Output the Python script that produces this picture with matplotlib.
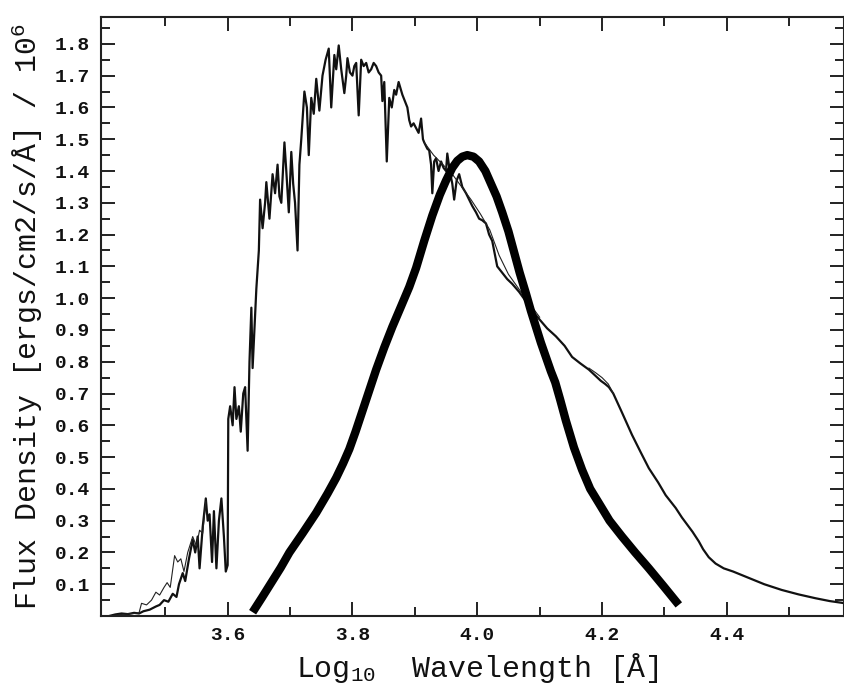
import numpy as np
import matplotlib
matplotlib.use("Agg")
import matplotlib.pyplot as plt
from matplotlib.ticker import FixedLocator, FormatStrFormatter

plt.rcParams['font.family'] = ['Liberation Mono', 'DejaVu Sans Mono']
plt.rcParams['mathtext.default'] = 'regular'

obs_x = [3.410, 3.420, 3.430, 3.440, 3.450, 3.458, 3.465, 3.475, 3.485, 3.491,
         3.498, 3.505, 3.512, 3.518, 3.522, 3.528, 3.532, 3.538, 3.544, 3.548,
         3.552, 3.555, 3.560, 3.565, 3.568, 3.571, 3.575, 3.578, 3.582, 3.586,
         3.590, 3.594, 3.597, 3.600, 3.601, 3.604, 3.608, 3.611, 3.614, 3.618,
         3.621, 3.625, 3.628, 3.632, 3.635, 3.638, 3.640, 3.644, 3.646, 3.650,
         3.652, 3.656, 3.660, 3.662, 3.667, 3.672, 3.676, 3.680, 3.683, 3.686,
         3.691, 3.694, 3.698, 3.702, 3.705, 3.708, 3.712, 3.715, 3.718, 3.723,
         3.727, 3.730, 3.734, 3.738, 3.742, 3.747, 3.752, 3.757, 3.762, 3.766,
         3.771, 3.774, 3.778, 3.782, 3.787, 3.790, 3.792, 3.796, 3.800, 3.803,
         3.806, 3.810, 3.814, 3.818, 3.822, 3.826, 3.830, 3.834, 3.838, 3.842,
         3.846, 3.848, 3.851, 3.855, 3.859, 3.863, 3.867, 3.870, 3.874, 3.877,
         3.880, 3.884, 3.888, 3.891, 3.894, 3.898, 3.902, 3.906, 3.910, 3.913,
         3.915, 3.920, 3.923, 3.926, 3.928, 3.931, 3.934, 3.938, 3.942, 3.946,
         3.950, 3.952, 3.956, 3.960, 3.963, 3.967, 3.971, 3.976, 3.982, 3.987,
         3.992, 3.998, 4.003, 4.008, 4.014, 4.019, 4.024, 4.028, 4.032, 4.040,
         4.048, 4.056, 4.067, 4.078, 4.088, 4.099, 4.112, 4.126, 4.140, 4.152,
         4.165, 4.179, 4.190, 4.198, 4.205, 4.211, 4.218, 4.232, 4.248, 4.262,
         4.275, 4.290, 4.302, 4.318, 4.328, 4.345, 4.355, 4.362, 4.371, 4.382,
         4.395, 4.410, 4.435, 4.460, 4.488, 4.515, 4.542, 4.565, 4.590]
obs_y = [0.000, 0.005, 0.008, 0.006, 0.010, 0.008, 0.015, 0.020, 0.030, 0.035,
         0.050, 0.045, 0.070, 0.060, 0.100, 0.135, 0.110, 0.180, 0.240, 0.200,
         0.250, 0.150, 0.280, 0.370, 0.300, 0.320, 0.170, 0.330, 0.150, 0.300,
         0.370, 0.250, 0.140, 0.160, 0.620, 0.660, 0.600, 0.720, 0.620, 0.660,
         0.580, 0.700, 0.720, 0.520, 0.800, 0.970, 0.780, 0.950, 1.030, 1.150,
         1.310, 1.220, 1.300, 1.365, 1.250, 1.390, 1.330, 1.420, 1.320, 1.300,
         1.490, 1.400, 1.270, 1.460, 1.360, 1.300, 1.150, 1.420, 1.500, 1.650,
         1.600, 1.450, 1.630, 1.580, 1.690, 1.590, 1.700, 1.750, 1.785, 1.600,
         1.765, 1.720, 1.795, 1.720, 1.645, 1.700, 1.755, 1.710, 1.700, 1.730,
         1.740, 1.575, 1.750, 1.730, 1.740, 1.710, 1.720, 1.740, 1.730, 1.710,
         1.700, 1.620, 1.680, 1.430, 1.630, 1.600, 1.655, 1.640, 1.680, 1.660,
         1.640, 1.620, 1.600, 1.560, 1.540, 1.550, 1.535, 1.520, 1.565, 1.500,
         1.490, 1.470, 1.465, 1.420, 1.330, 1.430, 1.440, 1.400, 1.430, 1.410,
         1.400, 1.455, 1.400, 1.360, 1.310, 1.370, 1.390, 1.350, 1.330, 1.310,
         1.290, 1.270, 1.250, 1.245, 1.235, 1.200, 1.180, 1.140, 1.100, 1.080,
         1.060, 1.045, 1.020, 0.990, 0.960, 0.935, 0.905, 0.880, 0.850, 0.815,
         0.795, 0.775, 0.755, 0.740, 0.730, 0.720, 0.700, 0.640, 0.570, 0.515,
         0.465, 0.420, 0.380, 0.340, 0.310, 0.265, 0.235, 0.210, 0.185, 0.165,
         0.150, 0.140, 0.120, 0.100, 0.082, 0.068, 0.056, 0.047, 0.040]

# model spectrum, only where it separates from the observed one
model_lo_x = [3.410, 3.430, 3.450, 3.458, 3.462, 3.470, 3.478, 3.485, 3.491, 3.498,
              3.503, 3.508, 3.515, 3.520, 3.525, 3.530, 3.536, 3.544, 3.550, 3.555,
              3.560, 3.565]
model_lo_y = [0.000, 0.005, 0.008, 0.010, 0.040, 0.035, 0.050, 0.075, 0.066, 0.090,
              0.105, 0.090, 0.190, 0.170, 0.180, 0.140, 0.200, 0.250, 0.220, 0.270,
              0.260, 0.360]
model_mid_x = [3.915, 3.930, 3.945, 3.960, 3.975, 3.990, 4.005, 4.020, 4.035, 4.050,
               4.070, 4.100]
model_mid_y = [1.490, 1.450, 1.420, 1.390, 1.350, 1.310, 1.265, 1.215, 1.135, 1.075,
               1.020, 0.940]
model_sh_x = [4.179, 4.190, 4.200, 4.210, 4.218]
model_sh_y = [0.780, 0.765, 0.750, 0.730, 0.700]

# thick overlaid curve
bb_x = [3.640, 3.655, 3.670, 3.685, 3.699, 3.720, 3.742, 3.760, 3.774, 3.785,
        3.795, 3.805, 3.816, 3.827, 3.838, 3.851, 3.864, 3.877, 3.891, 3.902,
        3.915, 3.928, 3.940, 3.950, 3.960, 3.968, 3.976, 3.984, 3.994, 4.003,
        4.013, 4.022, 4.031, 4.040, 4.050, 4.059, 4.068, 4.078, 4.086, 4.094,
        4.102, 4.110, 4.118, 4.125, 4.133, 4.142, 4.155, 4.168, 4.181, 4.195,
        4.212, 4.232, 4.253, 4.275, 4.299, 4.323]
bb_y = [0.012, 0.058, 0.105, 0.152, 0.200, 0.260, 0.325, 0.385, 0.435, 0.480,
        0.525, 0.580, 0.645, 0.710, 0.775, 0.845, 0.910, 0.970, 1.035, 1.095,
        1.180, 1.260, 1.325, 1.370, 1.410, 1.432, 1.445, 1.450, 1.445, 1.430,
        1.400, 1.360, 1.320, 1.270, 1.210, 1.145, 1.080, 1.015, 0.960, 0.910,
        0.860, 0.815, 0.770, 0.735, 0.680, 0.615, 0.530, 0.460, 0.400, 0.355,
        0.300, 0.250, 0.200, 0.150, 0.093, 0.035]

x_major = [3.6, 3.8, 4.0, 4.2, 4.4]
x_minor = [3.5, 3.7, 3.9, 4.1, 4.3, 4.5]
y_major = [0.1, 0.2, 0.3, 0.4, 0.5, 0.6, 0.7, 0.8, 0.9, 1.0,
           1.1, 1.2, 1.3, 1.4, 1.5, 1.6, 1.7, 1.8]
y_minor = [0.05, 0.15, 0.25, 0.35, 0.45, 0.55, 0.65, 0.75, 0.85, 0.95,
           1.05, 1.15, 1.25, 1.35, 1.45, 1.55, 1.65, 1.75, 1.85]

fig = plt.figure(figsize=(8.45, 6.86), dpi=100)
ax = fig.add_axes([0.1195, 0.102, 0.8795, 0.873])

ax.plot(obs_x, obs_y, color='#111111', lw=1.6)
ax.plot(model_lo_x, model_lo_y, color='#222222', lw=0.8)
ax.plot(model_mid_x, model_mid_y, color='#222222', lw=0.8)
ax.plot(model_sh_x, model_sh_y, color='#222222', lw=0.8)
ax.plot(bb_x, bb_y, color='black', lw=6, solid_capstyle='butt', solid_joinstyle='round')

ax.set_xlim(3.397, 4.588)
ax.set_ylim(0, 1.884)

ax.xaxis.set_major_locator(FixedLocator(x_major))
ax.xaxis.set_minor_locator(FixedLocator(x_minor))
ax.yaxis.set_major_locator(FixedLocator(y_major))
ax.yaxis.set_minor_locator(FixedLocator(y_minor))
ax.xaxis.set_major_formatter(FormatStrFormatter('%.1f'))
ax.yaxis.set_major_formatter(FormatStrFormatter('%.1f'))

ax.tick_params(which='both', direction='in', top=True, right=True, width=1.3,
               labelsize=14, pad=8, colors='#111111')
ax.tick_params(which='major', length=10)
ax.tick_params(which='minor', length=6.5)
for lab in ax.get_xticklabels() + ax.get_yticklabels():
    lab.set_fontweight('bold')
for s in ax.spines.values():
    s.set_linewidth(1.5)
    s.set_color('#222222')

ax.set_xlabel('Log$_{10}$  Wavelength [Å]', fontsize=21.5, color='#111111')
ax.set_ylabel('Flux Density [ergs/cm2/s/Å] / 10$^{6}$', fontsize=21.5, color='#111111')
ax.xaxis.set_label_coords(0.507, -0.058)
ax.yaxis.set_label_coords(-0.075, 0.5)

fig.savefig('out.png', dpi=100)
